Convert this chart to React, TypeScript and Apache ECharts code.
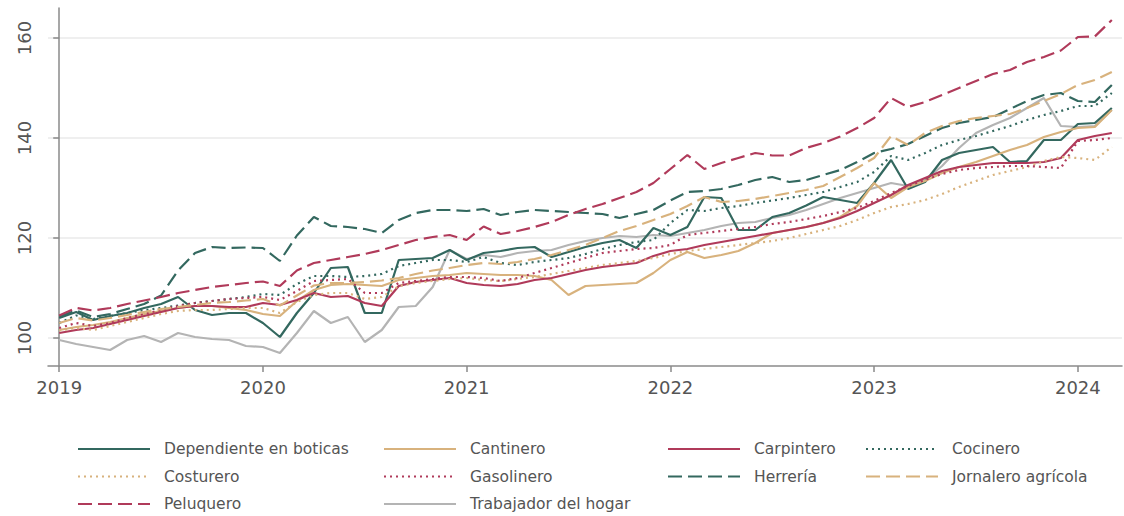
import React, { useEffect, useRef } from "react";
import * as echarts from "echarts";

// Monthly index, Jan 2019 = 0 ... Mar 2024 = 62
const yearTicks = [2019, 2020, 2021, 2022, 2023, 2024];
const yTicks = [100, 120, 140, 160];

const dependiente = [104, 105.2, 103.6, 104.4, 105, 106, 106.8, 108.2, 105.6, 104.6, 105, 105, 103, 100.2, 105, 109, 114, 114.2, 105, 105, 115.6, 115.8, 116, 117.6, 115.6, 117, 117.4, 118, 118.2, 116.2, 117.2, 118.2, 119, 119.6, 118, 122, 120.6, 122.2, 128.2, 128, 121.6, 121.6, 124.2, 125, 126.5, 128.2, 127.6, 127, 131, 135.6, 129.8, 131.2, 135.6, 137, 137.6, 138.2, 135.2, 135.4, 139.6, 139.6, 142.8, 143, 146];
const cantinero = [101.6, 102.2, 102.6, 103.2, 104, 104.8, 105.4, 106, 106.4, 106.4, 106, 105.6, 104.8, 104.4, 107.4, 109.6, 110.6, 110.8, 110.6, 110.4, 111.6, 112, 112.4, 112.6, 113, 112.8, 112.6, 112.6, 112.4, 111.6, 108.6, 110.4, 110.6, 110.8, 111, 113, 115.6, 117.2, 116, 116.6, 117.4, 119, 121, 121.6, 122.2, 123, 124.2, 126.4, 131, 128, 130.2, 131.4, 133, 134.2, 135.2, 136.4, 137.6, 138.6, 140.2, 141.2, 142, 142.2, 145.6];
const carpintero = [101, 101.6, 102, 102.8, 103.6, 104.4, 105.2, 106, 106.4, 106.4, 106.2, 106.2, 107, 106.6, 107.6, 109, 108.2, 108.4, 107, 106.4, 110.4, 111.2, 111.6, 112, 111, 110.6, 110.4, 110.8, 111.6, 112, 112.8, 113.6, 114.2, 114.6, 115, 116.4, 117.4, 117.8, 118.6, 119.2, 119.8, 120.4, 121, 121.6, 122.2, 123, 124, 125.4, 127, 128.6, 130.6, 132, 133.4, 134.2, 134.6, 135, 135, 135, 135.2, 136, 139.6, 140.4, 141];
const cocinero = [103, 104.5, 103.8, 104.4, 105, 105.6, 106, 106.5, 107, 107.4, 107.8, 108.2, 108.8, 108.6, 110.8, 112.4, 112.4, 112.2, 112.4, 112.8, 114.4, 115, 115.6, 115.6, 115.2, 116.2, 115, 114.6, 115.2, 115.6, 116, 116.8, 117.8, 118.6, 119.2, 119.6, 123, 125.6, 125.4, 126, 126.4, 127, 127.5, 128, 128.6, 129.2, 130.2, 131.2, 133.2, 136.4, 135.6, 137, 138.6, 139.6, 140.4, 141.4, 142.4, 143.6, 144.6, 145.4, 146.4, 146.4, 149];
const costurero = [101.5, 102, 101.6, 102.4, 103.2, 104, 104.8, 105.4, 105.6, 105.6, 105.8, 106, 106, 105, 107.2, 108.6, 109, 109, 107.8, 108.2, 110.4, 111, 111.4, 111.8, 112, 111.6, 111.4, 111.8, 112.2, 112.8, 113.4, 114, 114.6, 115, 115.4, 116, 116.8, 117.4, 117.8, 118.2, 118.6, 119, 119.4, 120, 120.8, 121.6, 122.4, 123.6, 125, 126.2, 126.8, 127.6, 128.8, 130.2, 131.4, 132.6, 133.4, 134.2, 135.4, 136.2, 136, 135.6, 138.2];
const gasolinero = [102, 103, 102.4, 103, 104, 104.8, 105.6, 106.4, 107, 107.4, 107.8, 108, 108.2, 107.6, 109.4, 111.4, 111.6, 111.8, 109, 109, 111, 111.4, 111.8, 112.2, 112.2, 112, 111.4, 112, 113, 114, 115, 116, 117, 117.4, 117.8, 118, 118.6, 120.6, 121, 121.4, 121.8, 122.2, 122.8, 123.2, 123.8, 124.4, 125.2, 126, 127.4, 129, 130.4, 131.6, 132.8, 133.6, 134, 134.2, 134.4, 134.4, 134.2, 134, 139.4, 139.6, 140];
const herreria = [104.3, 105.5, 104.2, 104.8, 105.8, 106.8, 108.5, 113.5, 117, 118.2, 118, 118.1, 118, 115.4, 120.5, 124.2, 122.4, 122.2, 121.8, 121, 123.6, 125, 125.6, 125.6, 125.4, 125.8, 124.6, 125.2, 125.6, 125.4, 125.2, 125, 124.8, 124, 124.8, 125.6, 127.5, 129.2, 129.4, 129.8, 130.6, 131.6, 132.2, 131.2, 131.6, 132.6, 133.6, 135.2, 137, 137.8, 138.8, 140.4, 142, 143, 143.6, 144.2, 145.8, 147.4, 148.6, 149, 147.4, 147.2, 150.6];
const jornalero = [103, 104, 103.5, 104, 104.6, 105.2, 105.8, 106.2, 106.6, 107, 107.2, 107.5, 107.8, 106.5, 108.5, 110.5, 111, 111, 111.2, 111.5, 112, 112.8, 113.5, 114, 114.6, 115, 114.8, 115.2, 115.8, 116.6, 117.6, 118.6, 120, 121.4, 122.4, 123.6, 124.8, 126.4, 128.2, 127.2, 127.4, 127.8, 128.4, 129, 129.6, 130.4, 132.2, 134, 136, 140.4, 138.6, 141, 142.4, 143.4, 144, 144.4, 144.8, 146, 147.4, 148.8, 150.6, 151.6, 153.2];
const peluquero = [104.5, 106, 105.5, 106, 106.8, 107.5, 108.2, 109, 109.6, 110.2, 110.6, 111, 111.3, 110.4, 113.5, 115, 115.6, 116.2, 116.8, 117.6, 118.6, 119.6, 120.2, 120.6, 119.6, 122.3, 120.8, 121.4, 122.2, 123.2, 124.6, 125.8, 126.8, 128, 129.2, 131, 133.8, 136.6, 133.8, 135, 136, 137, 136.5, 136.5, 138, 139, 140.3, 142, 144, 148, 146.2, 147.2, 148.6, 150, 151.4, 152.8, 153.6, 155.2, 156.2, 157.5, 160.2, 160.3, 163.6];
const trabajador = [99.6, 98.8, 98.2, 97.6, 99.6, 100.4, 99.2, 101, 100.2, 99.8, 99.6, 98.4, 98.2, 97, 101, 105.4, 103, 104.2, 99.2, 101.6, 106.2, 106.4, 110.2, 117.6, 115.8, 116.6, 116.2, 117, 117.4, 117.6, 118.6, 119.4, 120, 120.4, 120.2, 120.6, 120.4, 121, 121.6, 122.4, 123, 123.2, 124, 124.6, 125.6, 126.8, 128, 129, 130, 131, 130.4, 131.6, 134.4, 138, 141, 142.6, 144, 146, 148, 142.4, 142.2, 142.4, 145.6];

const TEAL = "#33685f";
const TAN = "#d8b27d";
const CRIMSON = "#b03a5a";
const GRAY = "#b4b4b4";

const DASH = [14, 6];
const DOT = [2, 4];

const seriesDefs = [
  { name: "Dependiente en boticas", data: dependiente, color: TEAL, type: "solid" as any },
  { name: "Cantinero", data: cantinero, color: TAN, type: "solid" as any },
  { name: "Carpintero", data: carpintero, color: CRIMSON, type: "solid" as any },
  { name: "Cocinero", data: cocinero, color: TEAL, type: DOT as any },
  { name: "Costurero", data: costurero, color: TAN, type: DOT as any },
  { name: "Gasolinero", data: gasolinero, color: CRIMSON, type: DOT as any },
  { name: "Herrería", data: herreria, color: TEAL, type: DASH as any },
  { name: "Jornalero agrícola", data: jornalero, color: TAN, type: DASH as any },
  { name: "Peluquero", data: peluquero, color: CRIMSON, type: DASH as any },
  { name: "Trabajador del hogar", data: trabajador, color: GRAY, type: "solid" as any },
];

const FONT = "'DejaVu Sans', sans-serif";

export default function App() {
  const ref = useRef<HTMLDivElement>(null);
  useEffect(() => {
    document.body.style.margin = "0";
    if (!ref.current) return;
    const chart = echarts.init(ref.current, undefined, { renderer: "svg" });
    const legendBase = {
      orient: "vertical",
      itemWidth: 72,
      itemHeight: 14,
      itemGap: 11.5,
      padding: 0,
      top: 441,
      selectedMode: false,
      itemStyle: { opacity: 0 },
      textStyle: { fontSize: 15.5, color: "#555", fontFamily: FONT, padding: [0, 0, 0, 9] },
    };
    chart.setOption({
      animation: false,
      backgroundColor: "#fff",
      grid: { left: 48, right: 2, top: 8, bottom: 150, containLabel: false },
      xAxis: {
        type: "value",
        min: -0.66,
        max: 62.6,
        axisLine: { show: true, lineStyle: { color: "#8a8a8a", width: 1.5 } },
        axisTick: {
          show: true,
          length: 6,
          lineStyle: { color: "#8a8a8a", width: 1.5 },
          customValues: yearTicks.map((y) => (y - 2019) * 12),
        },
        axisLabel: {
          customValues: yearTicks.map((y) => (y - 2019) * 12),
          formatter: (v: number) => String(Math.round(2019 + v / 12)),
          fontSize: 18,
          color: "#555",
          fontFamily: FONT,
          margin: 12,
        },
        splitLine: { show: false },
      },
      yAxis: {
        type: "value",
        min: 94.4,
        max: 166,
        axisLine: { show: true, lineStyle: { color: "#8a8a8a", width: 1.5 } },
        axisTick: {
          show: true,
          length: 6,
          lineStyle: { color: "#8a8a8a", width: 1.5 },
          customValues: yTicks,
        },
        axisLabel: {
          customValues: yTicks,
          rotate: 90,
          fontSize: 18,
          color: "#555",
          fontFamily: FONT,
          margin: 15,
        },
        splitLine: { show: true, lineStyle: { color: "#efefef", width: 2 } },
      },
      legend: [
        { ...legendBase, left: 77, data: ["Dependiente en boticas", "Costurero", "Peluquero"] },
        { ...legendBase, left: 383, data: ["Cantinero", "Gasolinero", "Trabajador del hogar"] },
        { ...legendBase, left: 667, data: ["Carpintero", "Herrería"] },
        { ...legendBase, left: 865, data: ["Cocinero", "Jornalero agrícola"] },
      ],
      series: seriesDefs.map((s) => ({
        name: s.name,
        type: "line",
        symbol: "none",
        data: s.data.map((v, i) => [i, v]),
        color: s.color,
        lineStyle: { color: s.color, width: 2.2, type: s.type, cap: "butt" },
        z: s.name === "Trabajador del hogar" ? 1 : 2,
      })),
    });
    return () => chart.dispose();
  }, []);
  return <div ref={ref} style={{ width: 1124, height: 516 }} />;
}
